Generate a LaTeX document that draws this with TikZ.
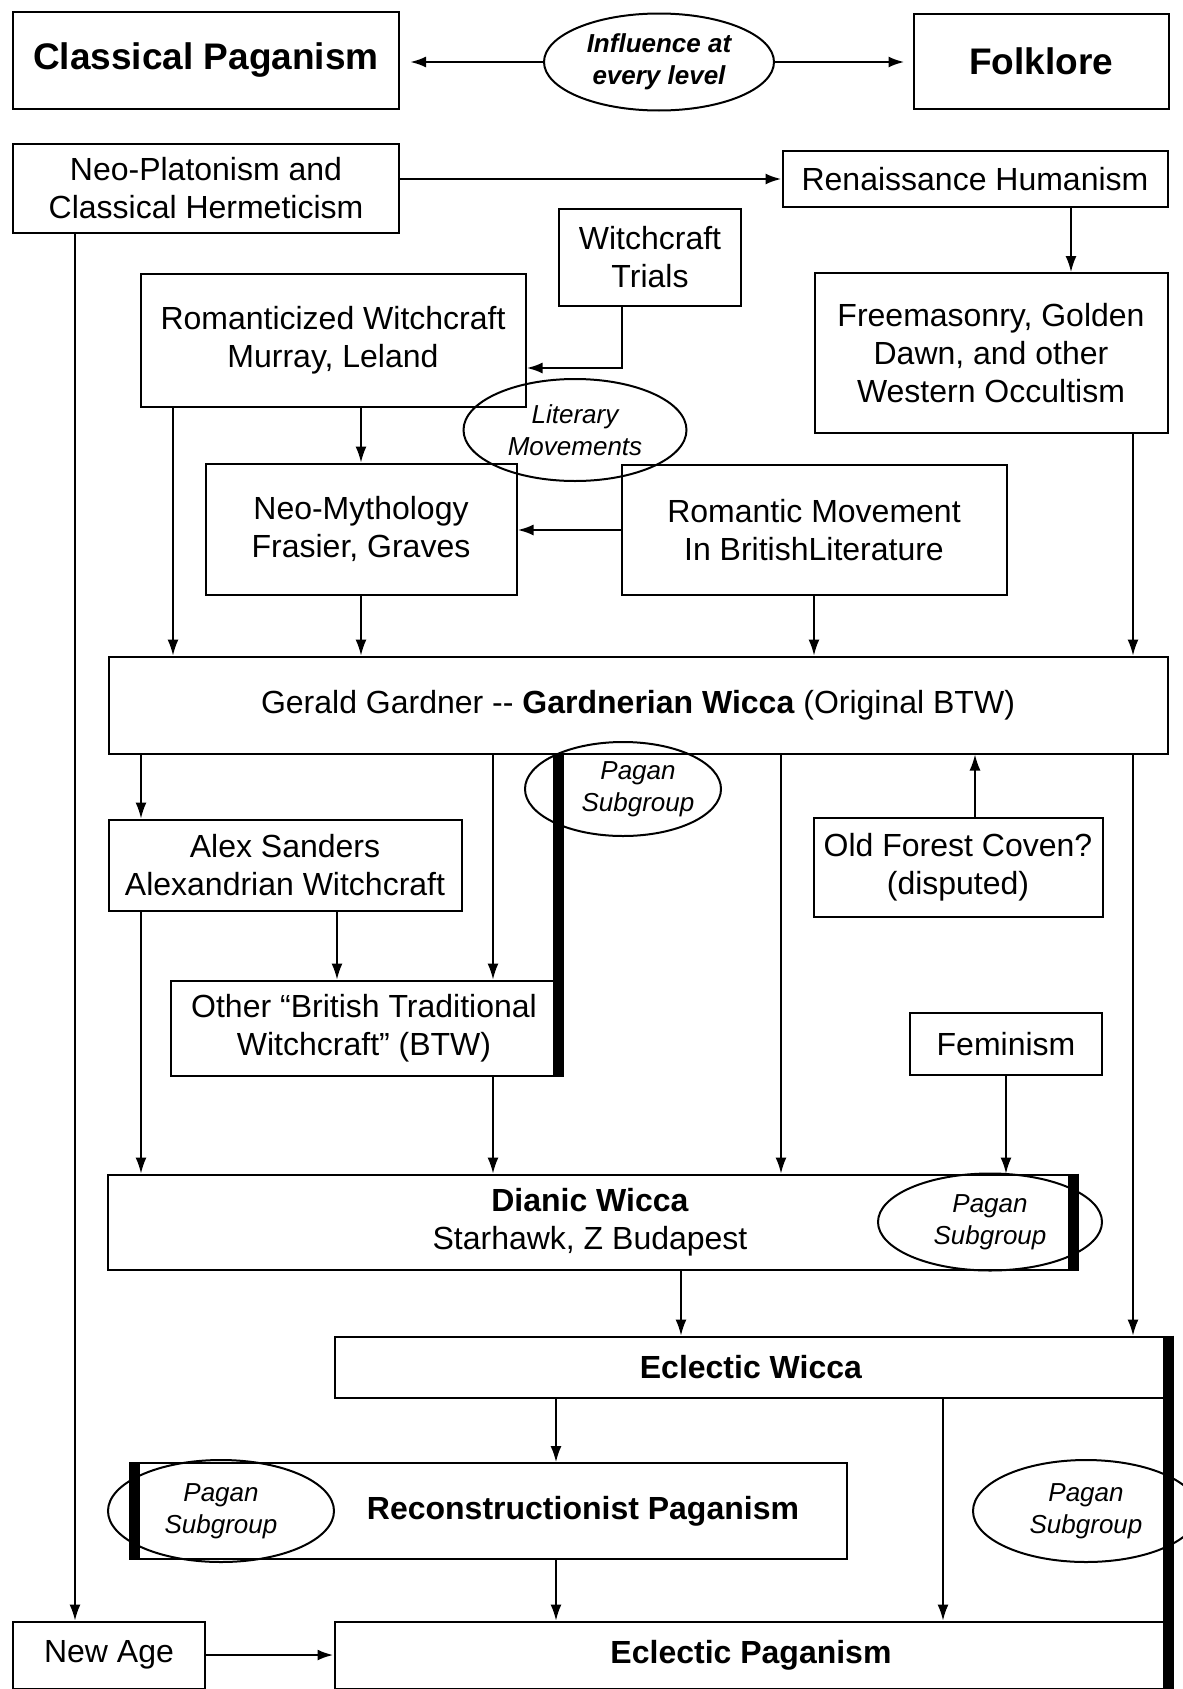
\documentclass[tikz,border=0pt]{standalone}
\usepackage{fontspec}
\setmainfont{Liberation Sans}
\usetikzlibrary{arrows.meta, shapes.geometric}

\tikzset{
  box/.style 2 args={draw, line width=2pt, inner sep=0pt, align=center, minimum width=#1pt, minimum height=#2pt, font=\fontsize{32}{38}\selectfont},
  title/.style={font=\fontsize{37}{44}\selectfont\bfseries},
  oval/.style 2 args={draw, ellipse, line width=2pt, inner sep=0pt, align=center, minimum width=#1pt, minimum height=#2pt, font=\fontsize{26}{32}\selectfont\itshape},
  tag/.style={align=center, font=\fontsize{26}{32}\selectfont\itshape},
  link/.style={-{Latex[length=16pt, width=11pt]}, line width=1.6pt},
  wide/.style={link, line width=2.6pt},
  bar/.style={line width=11pt},
}

\begin{document}
\begin{tikzpicture}[x=1pt, y=-1pt]
    \useasboundingbox (0,0) rectangle (1183,1689);

    \node[box={386}{97}, title] (classical) at (206,60) {Classical Paganism};
    \node[box={255}{95}, title] (folklore) at (1041,61) {Folklore};
    \node[oval={230}{97}, font=\fontsize{26}{32}\selectfont\bfseries\itshape] (influence) at (659,62) {Influence at\\every level};
    \node[box={386}{89}] (neoplat) at (206,188) {Neo-Platonism and\\Classical Hermeticism};
    \node[box={385}{56}] (renaissance) at (975,179) {Renaissance Humanism};
    \node[box={182}{97}] (trials) at (650,257) {Witchcraft\\Trials};
    \node[box={385}{133}] (romanticized) at (333,340) {Romanticized Witchcraft\\Murray, Leland};
    \node[box={353}{160}] (occult) at (991,353) {Freemasonry, Golden\\Dawn, and other\\Western Occultism};
    \node[oval={223}{102}] (literary) at (575,430) {Literary\\Movements};
    \node[box={311}{131}] (neomyth) at (361,529) {Neo-Mythology\\Frasier, Graves};
    \node[box={385}{130}] (romantic) at (814,530) {Romantic Movement\\In BritishLiterature};
    \node[box={1059}{97}] (gardner) at (638,705) {Gerald Gardner -{}- \textbf{Gardnerian Wicca} (Original BTW)};

    \node[oval={196}{94}] (subA) at (623,789) {};
    \node[tag] (subAtxt) at (638,789) {Pagan\\Subgroup};
    \node[box={353}{91}] (sanders) at (285,865) {Alex Sanders\\Alexandrian Witchcraft};
    \node[box={289}{99}] (forest) at (958,867) {Old Forest Coven?\\(disputed)};
    \node[box={386}{95}] (otherbtw) at (364,1028) {Other “British Traditional\\Witchcraft” (BTW)};
    \node[box={192}{62}] (feminism) at (1006,1044) {Feminism};
    \node[box={964}{95}] (dianic) at (590,1222) {\textbf{Dianic Wicca}\\Starhawk, Z Budapest};
    \node[oval={224}{97}] (subB) at (990,1222) {Pagan\\Subgroup};

    \node[box={833}{61}] (eclwicca) at (751,1367) {\textbf{Eclectic Wicca}};
    \node[box={711}{96}] (recon) at (491,1511) {};
    \node[font=\fontsize{32}{38}\selectfont\bfseries] (recontxt) at (583,1511) {Reconstructionist Paganism};
    \node[oval={226}{102}] (subC) at (221,1511) {Pagan\\Subgroup};
    \node[oval={226}{102}] (subD) at (1086,1511) {Pagan\\Subgroup};
    \node[box={192}{67}] (newage) at (109,1655) {New Age};
    \node[box={833}{67}] (eclpagan) at (751,1655) {\textbf{Eclectic Paganism}};

    \coordinate (xnew) at (75,0);
    \coordinate (xren) at (1071,0);
    \coordinate (xtri) at (622,0);
    \coordinate (ytri) at (0,368);
    \coordinate (xrom) at (173,0);
    \coordinate (xocc) at (1133,0);
    \coordinate (xsan) at (141,0);
    \coordinate (xbtw) at (493,0);
    \coordinate (xdia) at (781,0);
    \coordinate (xfor) at (975,0);
    \coordinate (xsb) at (337,0);
    \coordinate (xdw) at (681,0);
    \coordinate (xrec) at (556,0);
    \coordinate (xep) at (943,0);

    \draw[wide, shorten >=10pt] (influence.west) -- (influence.west -| classical.east);
    \draw[wide, shorten >=8pt] (influence.east) -- (influence.east -| folklore.west);
    \draw[wide] (renaissance.west -| neoplat.east) -- (renaissance.west);
    \draw[link] (renaissance.south -| xren) -- (occult.north -| xren);
    \draw[wide] (trials.south -| xtri) |- (romanticized.east |- ytri);
    \draw[link] (neoplat.south -| xnew) -- (newage.north -| xnew);

    \draw[link] (romanticized.south -| xrom) -- (gardner.north -| xrom);
    \draw[link] (romanticized.south -| neomyth.north) -- (neomyth.north);
    \draw[wide] (romantic.west) -- (romantic.west -| neomyth.east);
    \draw[link] (neomyth.south) -- (gardner.north -| neomyth.south);
    \draw[link] (romantic.south) -- (gardner.north -| romantic.south);
    \draw[link] (occult.south -| xocc) -- (gardner.north -| xocc);

    \draw[link] (gardner.south -| xsan) -- (sanders.north -| xsan);
    \draw[link] (gardner.south -| xbtw) -- (otherbtw.north -| xbtw);
    \draw[link] (gardner.south -| xdia) -- (dianic.north -| xdia);
    \draw[link] (gardner.south -| xocc) -- (eclwicca.north -| xocc);
    \draw[link] (forest.north -| xfor) -- (gardner.south -| xfor);
    \draw[link] (sanders.south -| xsb) -- (otherbtw.north -| xsb);
    \draw[link] (sanders.south -| xsan) -- (dianic.north -| xsan);
    \draw[link] (otherbtw.south -| xbtw) -- (dianic.north -| xbtw);
    \draw[link] (feminism.south) -- (dianic.north -| feminism.south);

    \draw[link] (dianic.south -| xdw) -- (eclwicca.north -| xdw);
    \draw[link] (eclwicca.south -| xrec) -- (recon.north -| xrec);
    \draw[link] (recon.south -| xrec) -- (eclpagan.north -| xrec);
    \draw[link] (eclwicca.south -| xep) -- (eclpagan.north -| xep);
    \draw[wide] (newage.east) -- (newage.east -| eclpagan.west);

    \draw[bar] (otherbtw.east |- gardner.south) -- (otherbtw.south east);
    \draw[bar] (dianic.north east) -- (dianic.south east);
    \draw[bar] (eclwicca.north east) -- (eclwicca.north east |- eclpagan.south);
    \draw[bar] (recon.north west) -- (recon.south west);
\end{tikzpicture}
\end{document}
